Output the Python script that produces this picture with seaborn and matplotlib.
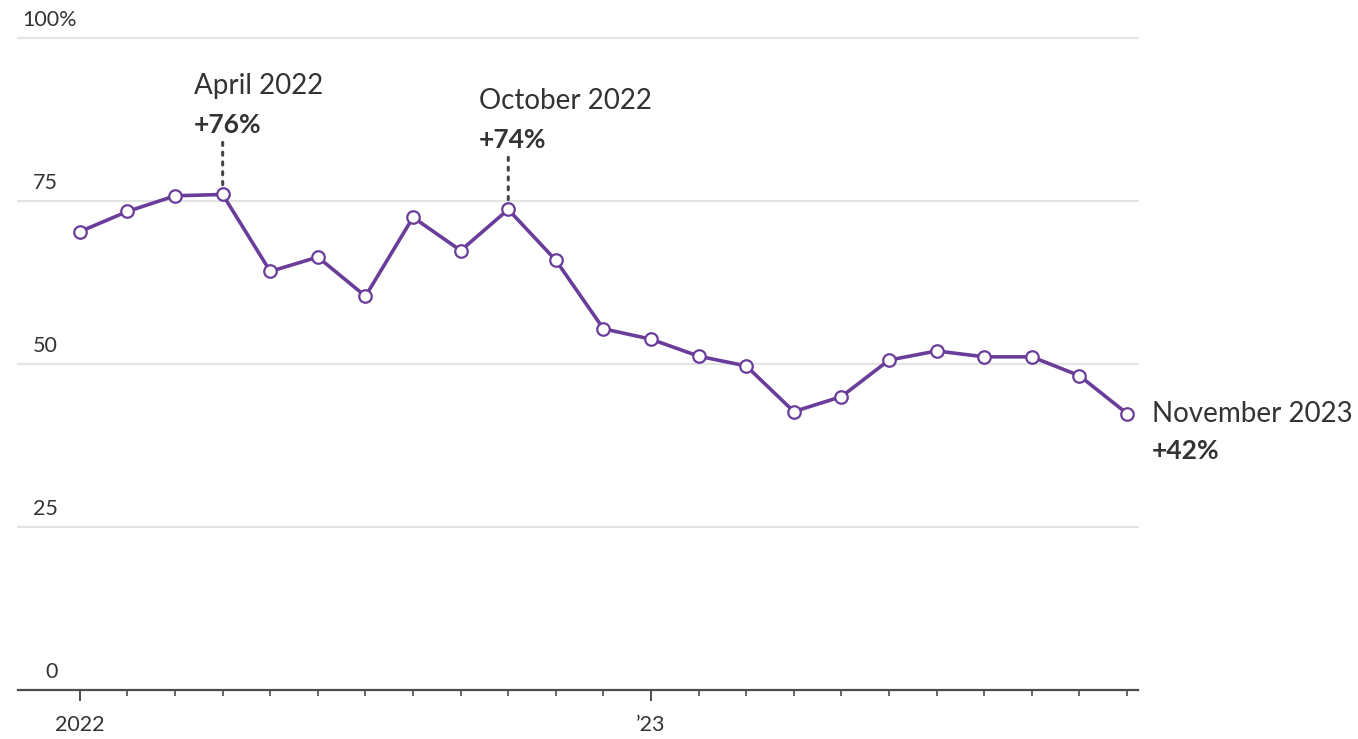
import matplotlib

matplotlib.use("Agg")

import matplotlib.pyplot as plt
import matplotlib.transforms as mtransforms
import pandas as pd
import seaborn as sns

# monthly values, Jan 2022 .. Nov 2023 (percent)
months = pd.date_range("2022-01-01", "2023-11-01", freq="MS")
values = [70.3, 73.4, 75.8, 76.0, 64.2, 66.4, 60.4, 72.5, 67.4, 73.7, 65.9, 55.4,
          53.8, 51.2, 49.7, 42.7, 45.0, 50.6, 52.0, 51.1, 51.1, 48.2, 42.4]
y_ticks = [0, 25, 50, 75, 100]
x_major_labels = {0: "2022", 12: "\u201923"}
callouts = [
    (3, "April 2022", "+76%", "above"),
    (9, "October 2022", "+74%", "above"),
    (22, "November 2023", "+42%", "right"),
]

PURPLE = "#6a3d9a"
TEXT = "#333333"
GRID = "#e4e4e4"

sns.set_theme(style="white")
plt.rcParams["font.family"] = ["Lato", "DejaVu Sans"]

df = pd.DataFrame({"idx": range(len(months)), "value": values})

fig = plt.figure(figsize=(13.58, 7.39), dpi=100)
ax = fig.add_axes([18 / 1358, 1 - 690 / 739, 1120 / 1358, 652 / 739])

for v in y_ticks[1:]:
    ax.axhline(v, color=GRID, lw=1.6, zorder=0)

sns.lineplot(
    data=df, x="idx", y="value", ax=ax, color=PURPLE, linewidth=2.6,
    marker="o", markersize=9, markerfacecolor="white",
    markeredgecolor=PURPLE, markeredgewidth=1.6, zorder=3,
)

ax.set_xlim(-1.30, 22.23)
ax.set_ylim(0, 100)

for side in ["top", "right", "left"]:
    ax.spines[side].set_visible(False)
ax.spines["bottom"].set_color("#4d4d4d")
ax.spines["bottom"].set_linewidth(1.6)

ax.set_xticks(list(x_major_labels.keys()))
ax.set_xticklabels(list(x_major_labels.values()), fontsize=15.5, color=TEXT)
ax.set_xticks(list(df["idx"]), minor=True)
ax.tick_params(axis="x", which="major", direction="out", length=8, width=1.4,
               color="#4d4d4d", pad=10, bottom=True)
ax.tick_params(axis="x", which="minor", direction="out", length=4.5, width=1.2,
               color="#4d4d4d", bottom=True)
ax.set_yticks([])
ax.set_xlabel("")
ax.set_ylabel("")

# y labels sit just above their gridlines
lift = mtransforms.offset_copy(ax.get_yaxis_transform(), fig=fig, y=6, units="points")
for v in y_ticks:
    if v == 100:
        ax.text(4 / 1120, v, "100%", transform=lift, ha="left", va="bottom",
                fontsize=15.5, color=TEXT)
    else:
        ax.text(40 / 1120, v, str(v), transform=lift, ha="right", va="bottom",
                fontsize=15.5, color=TEXT)

for i, label, pct, where in callouts:
    v = values[i]
    if where == "above":
        ax.annotate(label, xy=(i, v), xytext=(-21, 72), textcoords="offset points",
                    ha="left", va="baseline", fontsize=20, color=TEXT)
        ax.annotate(pct, xy=(i, v), xytext=(-21, 44.5), textcoords="offset points",
                    ha="left", va="baseline", fontsize=19, fontweight="bold", color=TEXT)
        ax.annotate("", xy=(i, v), xytext=(0, 37.5), textcoords="offset points",
                    arrowprops=dict(arrowstyle="-", linestyle=(0, (1, 2.2)), lw=2.2,
                                    color="#444444", shrinkA=0, shrinkB=7))
    else:
        ax.annotate(label, xy=(i, v), xytext=(18, 0), textcoords="offset points",
                    ha="left", va="center", fontsize=20, color=TEXT)
        ax.annotate(pct, xy=(i, v), xytext=(18, -27), textcoords="offset points",
                    ha="left", va="center", fontsize=19, fontweight="bold", color=TEXT)

for line in ax.lines:
    line.set_clip_on(False)

fig.savefig("out.png", dpi=100)
